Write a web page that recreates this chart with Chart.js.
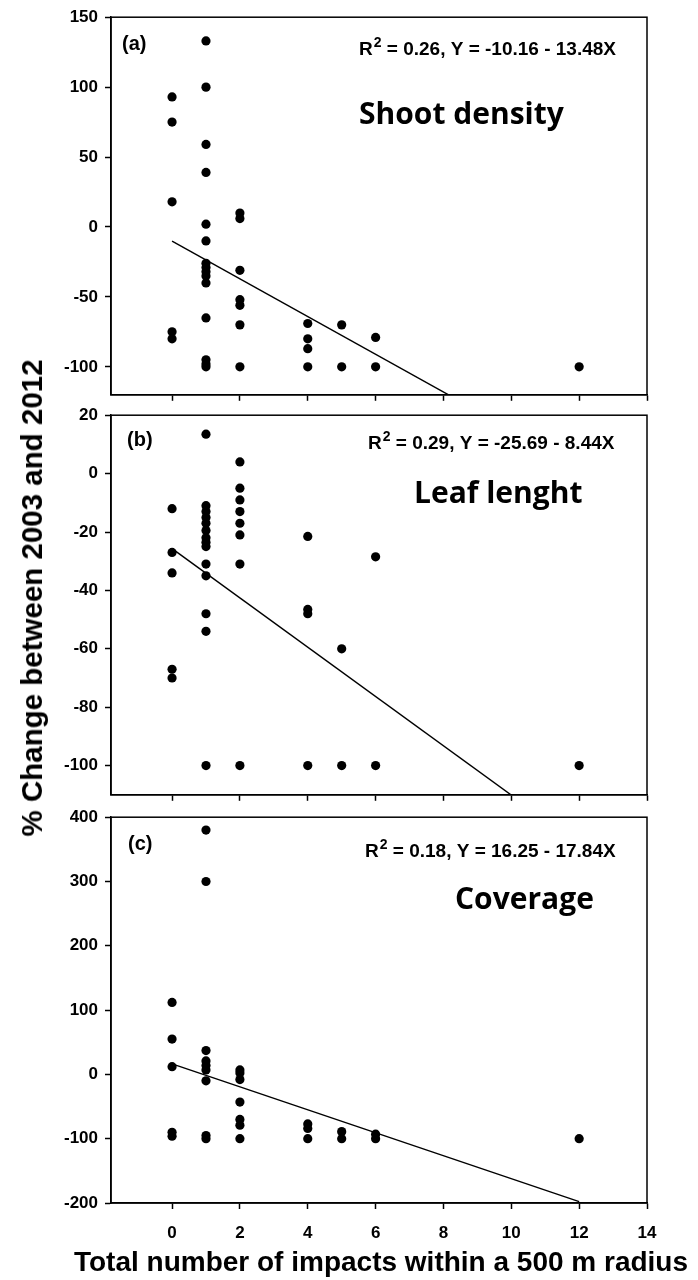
<!DOCTYPE html>
<html>
<head>
<meta charset="utf-8">
<script src="https://cdn.jsdelivr.net/npm/chart.js@4.4.1/dist/chart.umd.min.js"></script>
<style>
  body { margin: 0; background: #fff; }
  #page { position: relative; width: 698px; height: 1280px; overflow: hidden; }
  .panel { position: absolute; left: 0; width: 698px; }
  .title {
    position: absolute; white-space: nowrap; color: #000; z-index: 5;
    font: bold 29px "Liberation Sans", Arial, sans-serif;
  }
  #ytitle { left: 32px; top: 598px; transform: translate(-50%, -50%) rotate(-90deg); font-size: 29.5px; }
  #xtitle { left: 381px; top: 1262px; transform: translate(-50%, -50%); font-size: 28px; }
</style>
</head>
<body>
<div id="page">
  <div class="panel" style="top:0;height:412px"><canvas id="chartA"></canvas></div>
  <div class="panel" style="top:398px;height:414px"><canvas id="chartB"></canvas></div>
  <div class="panel" style="top:800px;height:480px"><canvas id="chartC"></canvas></div>
  <div class="title" id="ytitle">% Change between 2003 and 2012</div>
  <div class="title" id="xtitle">Total number of impacts within a 500 m radius</div>
</div>
<script>
// (a) shoot density
const shootX = [0, 0, 0, 0, 0,
    1, 1, 1, 1, 1, 1, 1, 1, 1, 1, 1, 1, 1, 1, 1,
    2, 2, 2, 2, 2, 2, 2,
    4, 4, 4, 4, 5, 5, 6, 6, 12];
const shootY = [93, 75, 18, -75, -80,
    133, 100, 59, 39, 2, -10, -26, -29, -32, -35, -40, -65, -95, -98, -100,
    10, 6, -31, -52, -56, -70, -100,
    -69, -80, -87, -100, -70, -100, -79, -100, -100];

// (b) leaf length
const leafX = [0, 0, 0, 0, 0,
    1, 1, 1, 1, 1, 1, 1, 1, 1, 1, 1, 1, 1, 1,
    2, 2, 2, 2, 2, 2, 2, 2,
    4, 4, 4, 4, 5, 5, 6, 6, 12];
const leafY = [-12, -27, -34, -67, -70,
    13.5, -11, -13, -15, -17, -19.5, -22, -23.5, -25, -31, -35, -48, -54, -100,
    4, -5, -9, -13, -17, -21, -31, -100,
    -21.5, -46.5, -48, -100, -60, -100, -28.5, -100, -100];

// (c) coverage
const coverX = [0, 0, 0, 0, 0,
    1, 1, 1, 1, 1, 1, 1, 1, 1,
    2, 2, 2, 2, 2, 2, 2,
    4, 4, 4, 5, 5, 6, 6, 12];
const coverY = [112, 55, 12, -90, -96,
    380, 300, 37, 21, 14, 7, -10, -95, -100,
    7, 2, -8, -43, -70, -79, -100,
    -77, -84, -100, -89, -100, -93, -100, -100];

// regression fits
const fitR2 = [0.26, 0.29, 0.18];
const fitIntercept = [-10.16, -25.69, 16.25];
const fitSlope = [-13.48, -8.44, -17.84];
const fitRange = [0, 12];

const xTicks = [0, 2, 4, 6, 8, 10, 12, 14];
const yTicksA = [-100, -50, 0, 50, 100, 150];
const yTicksB = [-100, -80, -60, -40, -20, 0, 20];
const yTicksC = [-200, -100, 0, 100, 200, 300, 400];

const panelLetters = ['(a)', '(b)', '(c)'];
const panelNames = ['Shoot density', 'Leaf lenght', 'Coverage'];

const tickFont = { family: '"Liberation Sans", Arial, sans-serif', size: 17, weight: 'bold' };

const panelText = {
    id: 'panelText',
    afterDraw(chart, args, opts) {
        const { ctx, chartArea: a } = chart;
        const i = opts.index;
        ctx.save();
        ctx.strokeStyle = '#000';
        ctx.lineWidth = 1.5;
        ctx.strokeRect(a.left, a.top, a.right - a.left, a.bottom - a.top);
        ctx.fillStyle = '#000';
        ctx.textBaseline = 'alphabetic';
        ctx.textAlign = 'left';
        ctx.font = 'bold 20px "Liberation Sans", Arial, sans-serif';
        ctx.fillText(panelLetters[i], a.left + opts.letterAt[0], a.top + opts.letterAt[1]);

        // equation with superscript 2
        let x = a.left + opts.eqAt[0];
        const y = a.top + opts.eqAt[1];
        ctx.font = 'bold 19px "Liberation Sans", Arial, sans-serif';
        ctx.fillText('R', x, y);
        x += ctx.measureText('R').width + 1;
        ctx.font = 'bold 14px "Liberation Sans", Arial, sans-serif';
        ctx.fillText('2', x, y - 8);
        x += ctx.measureText('2').width;
        ctx.font = 'bold 19px "Liberation Sans", Arial, sans-serif';
        const eq = ' = ' + fitR2[i].toFixed(2) + ', Y = ' + fitIntercept[i].toFixed(2) +
            ' - ' + Math.abs(fitSlope[i]).toFixed(2) + 'X';
        ctx.fillText(eq, x, y);

        ctx.font = 'bold 30px "Open Sans", Lato, sans-serif';
        ctx.fillText(panelNames[i], a.left + opts.nameAt[0], a.top + opts.nameAt[1]);
        ctx.restore();
    }
};

function makeChart(id, index, xs, ys, yMin, yMax, yTicks, padTop, axisHeight, showX, textPos) {
    const points = xs.map((x, k) => ({ x: x, y: ys[k] }));
    const fit = fitRange.map(x => ({ x: x, y: fitIntercept[index] + fitSlope[index] * x }));
    return new Chart(document.getElementById(id).getContext('2d'), {
        type: 'scatter',
        data: {
            datasets: [{
                data: points,
                backgroundColor: '#000',
                borderColor: '#000',
                pointRadius: 4.6,
                borderWidth: 0
            }, {
                data: fit,
                showLine: true,
                borderColor: '#000',
                borderWidth: 1.4,
                pointRadius: 0
            }]
        },
        options: {
            responsive: true,
            maintainAspectRatio: false,
            animation: false,
            layout: { padding: { top: padTop, right: 51, left: 0, bottom: 0 } },
            plugins: {
                legend: { display: false },
                tooltip: { enabled: false },
                panelText: Object.assign({ index: index }, textPos)
            },
            scales: {
                x: {
                    type: 'linear',
                    min: -1.8,
                    max: 14,
                    afterBuildTicks: s => { s.ticks = xTicks.map(v => ({ value: v })); },
                    afterFit: s => { s.height = axisHeight; },
                    border: { display: true, color: '#000', width: 1.5 },
                    grid: { drawOnChartArea: false, color: '#000', tickLength: 6, tickWidth: 1.5 },
                    ticks: { display: showX, color: '#000', font: tickFont, padding: 14, maxRotation: 0 }
                },
                y: {
                    type: 'linear',
                    min: yMin,
                    max: yMax,
                    afterBuildTicks: s => { s.ticks = yTicks.map(v => ({ value: v })); },
                    afterFit: s => { s.width = 111; },
                    border: { display: true, color: '#000', width: 1.5 },
                    grid: { drawOnChartArea: false, color: '#000', tickLength: 6, tickWidth: 1.5 },
                    ticks: { color: '#000', font: tickFont, padding: 7 }
                }
            }
        },
        plugins: [panelText]
    });
}

makeChart('chartA', 0, shootX, shootY, -120, 150, yTicksA, 15, 15, false,
    { letterAt: [11, 33], eqAt: [248, 38], nameAt: [248, 107] });
makeChart('chartB', 1, leafX, leafY, -110, 20, yTicksB, 13, 15, false,
    { letterAt: [16, 31], eqAt: [257, 34], nameAt: [303, 88] });
makeChart('chartC', 2, coverX, coverY, -200, 400, yTicksC, 15, 77, true,
    { letterAt: [17, 33], eqAt: [254, 40], nameAt: [344, 92] });
</script>
</body>
</html>
